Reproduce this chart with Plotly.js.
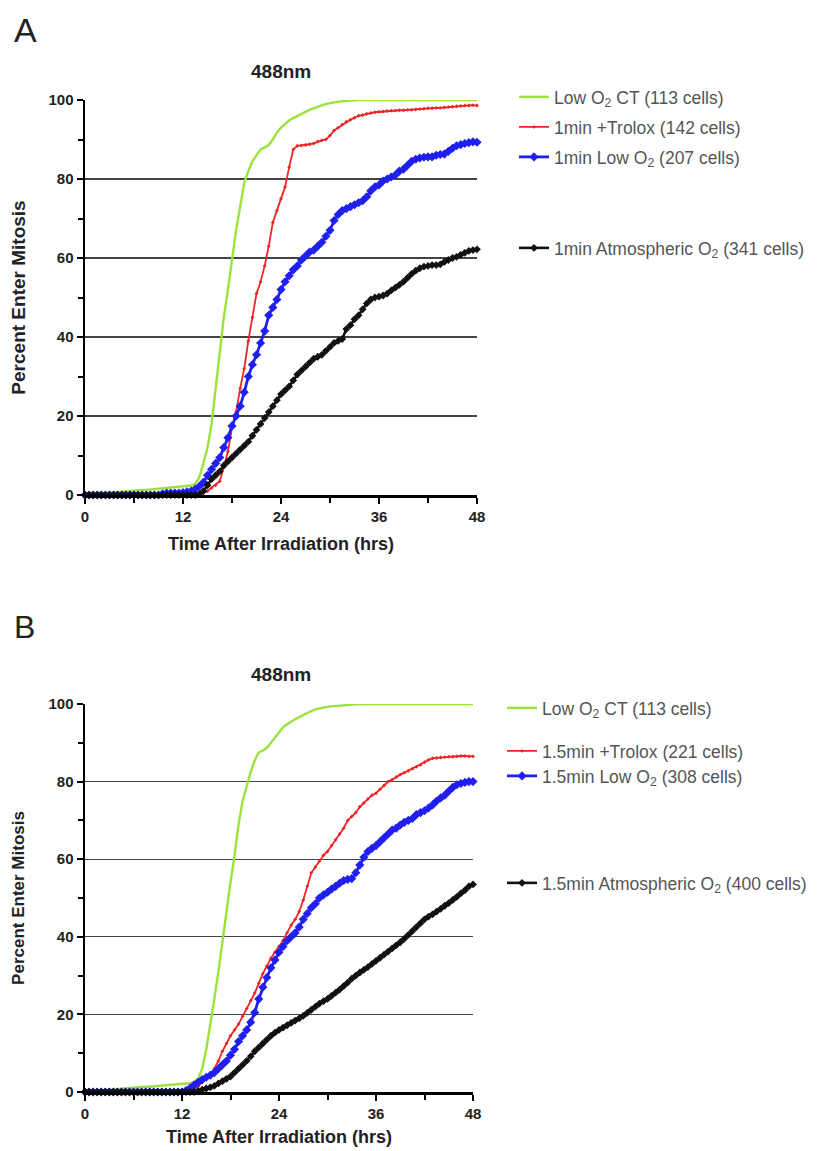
<!DOCTYPE html>
<html>
<head>
<meta charset="utf-8">
<script src="https://cdn.plot.ly/plotly-3.0.1.min.js"></script>
<style>html,body{margin:0;padding:0;background:#fff;}#chart{width:822px;height:1151px;}</style>
</head>
<body>
<div id="chart"></div>
<script>
// Time after irradiation (hrs), 0.5-hour sampling
const hours = [
  0,0.5,1,1.5,2,2.5,3,3.5,4,4.5,5,5.5,
  6,6.5,7,7.5,8,8.5,9,9.5,10,10.5,11,11.5,
  12,12.5,13,13.5,14,14.5,15,15.5,16,16.5,17,17.5,
  18,18.5,19,19.5,20,20.5,21,21.5,22,22.5,23,23.5,
  24,24.5,25,25.5,26,26.5,27,27.5,28,28.5,29,29.5,
  30,30.5,31,31.5,32,32.5,33,33.5,34,34.5,35,35.5,
  36,36.5,37,37.5,38,38.5,39,39.5,40,40.5,41,41.5,
  42,42.5,43,43.5,44,44.5,45,45.5,46,46.5,47,47.5,
  48
];

// ---- Panel A ----
const namesA = [
  "Low O<sub>2</sub> CT (113 cells)",
  "1min +Trolox (142 cells)",
  "1min Low O<sub>2</sub> (207 cells)",
  "1min Atmospheric O<sub>2</sub> (341 cells)"
];
const greenA = [
  0,0.1,0.2,0.3,0.4,0.5,0.6,0.7,0.8,0.9,1.0,1.0,
  1.1,1.2,1.3,1.3,1.4,1.5,1.6,1.7,1.8,1.9,2.0,2.0,
  2.1,2.2,2.4,2.8,4.5,8,12,18,27,36,45,52,
  60,67,73,79,82,84.5,86,87.5,88,88.6,90,91.8,
  93,94,94.8,95.4,96,96.6,97,97.5,97.9,98.3,98.7,99,
  99.2,99.4,99.6,99.7,99.8,99.9,99.9,100,100,100,100,100,
  100,100,100,100,100,100,100,100,100,100,100,100,
  100,100,100,100,100,100,100,100,100,100,100,100,
  100
];
const redA = [
  0,0,0,0,0,0,0,0,0,0,0,0,
  0,0,0,0,0,0,0,0,0,0,0,0,
  0,0,0,0,0.2,0.5,1,1.8,2.5,3.5,7,11,
  17,21,27,32,39,45,51,54,58,63,69,72,
  75,78,83,87.5,88.4,88.5,88.6,88.8,89,89.5,89.8,90,
  91,92.3,93,93.8,94.5,95,95.5,96,96.2,96.5,96.7,96.9,
  97,97.1,97.2,97.3,97.3,97.4,97.4,97.5,97.5,97.6,97.7,97.8,
  97.9,97.9,98,98,98.1,98.2,98.3,98.4,98.5,98.6,98.6,98.7,
  98.6
];
const blueA = [
  0,0,0,0,0,0,0,0,0,0,0,0,
  0,0,0,0,0,0,0,0.3,0.5,0.5,0.5,0.5,
  0.6,0.8,1.0,1.5,2.2,3.2,5,6.5,8,9.5,12,14.5,
  17.5,20,22.5,26,30,33,35.5,38.5,41.5,45.5,47.5,49.5,
  52,54,55.5,57,58,59.5,60.5,61.5,62,63,64,65.5,
  67,69.5,71,72,72.5,73,73.5,74,74.5,75.5,77,78,
  78.5,79.5,80,80.5,81,82,82.5,83.5,84.5,85,85.3,85.5,
  85.6,85.6,86,86.2,86.3,87,87.8,88.4,88.7,89,89.2,89.4,
  89.3
];
const blackA = [
  0,0,0,0,0,0,0,0,0,0,0,0,
  0,0,0,0,0,0,0,0,0,0,0,0,
  0,0,0,0,0.3,1,2.5,4,5,6,7.5,8.5,
  9.5,10.5,11.5,12.5,13.5,15,16.5,18,19.5,21,22.5,24,
  25.5,26.5,27.5,29,30.5,31.5,32.5,33.5,34.5,35,35.5,36.5,
  37.5,38.5,39,39.5,42,43,44.5,45.5,47,48.5,49.5,50,
  50.2,50.5,51,51.8,52.5,53.2,54,55,56,56.8,57.4,57.8,
  58,58.2,58.2,58.4,59,59.5,60,60.3,60.8,61.3,61.8,62,
  62.2
];

// ---- Panel B ----
const namesB = [
  "Low O<sub>2</sub> CT (113 cells)",
  "1.5min +Trolox (221 cells)",
  "1.5min Low O<sub>2</sub> (308 cells)",
  "1.5min Atmospheric O<sub>2</sub> (400 cells)"
];
const greenB = [
  0,0.1,0.2,0.3,0.4,0.5,0.6,0.7,0.8,0.9,1.0,1.0,
  1.1,1.2,1.3,1.3,1.4,1.5,1.6,1.7,1.8,1.9,2.0,2.0,
  2.1,2.2,2.2,2.6,3.5,6,11,17,24,31,39,46,
  54,61,69,75,79,82.5,85.5,87.5,88,88.7,90,91.3,
  92.8,94,94.8,95.5,96.1,96.6,97.2,97.7,98.2,98.6,98.9,99.1,
  99.3,99.4,99.5,99.6,99.7,99.8,99.9,99.9,99.9,100,100,100,
  100,100,100,100,100,100,100,100,100,100,100,100,
  100,100,100,100,100,100,100,100,100,100,100,100,
  100
];
const redB = [
  0,0,0,0,0,0,0,0,0,0,0,0,
  0,0,0,0,0,0,0,0,0,0,0,0,
  0,0,0.3,0.8,1.5,2.5,3.5,4.5,6,8,10.5,12.5,
  14.5,16,17.5,19.5,21.5,23.5,25.5,28,30.5,32.5,34.5,36,
  37.5,39,41,43,44.5,46.5,49.5,53,56.5,58,59.5,61,
  62,63.5,65,66.5,68,70,71,72,73.5,74.5,75.5,76.5,
  77,78,79,80,80.5,81.2,81.8,82.3,82.8,83.3,83.8,84.3,
  85,85.6,86,86.1,86.2,86.3,86.4,86.4,86.5,86.6,86.6,86.5,
  86.5
];
const blueB = [
  0,0,0,0,0,0,0,0,0,0,0,0,
  0,0,0,0,0,0,0,0,0,0,0,0,
  0,0.4,1,1.8,2.5,3.2,3.8,4.3,5,6,7,8,
  9.5,11,13,14.5,16,18,20.5,24,27,29.5,32,34,
  36,37.5,39,40,41,42.5,44.5,46,47.5,48.5,50,50.8,
  51.5,52.3,53,53.8,54.5,54.8,55,56.5,58.5,60.5,62,62.8,
  63.5,64.5,65.5,66.5,67.5,68,68.8,69.5,70,70.5,71.5,72,
  72.5,73.2,74,75,75.8,76.5,77.5,78.5,79.2,79.5,79.8,80,
  80
];
const blackB = [
  0,0,0,0,0,0,0,0,0,0,0,0,
  0,0,0,0,0,0,0,0,0,0,0,0,
  0,0,0,0,0.3,0.6,0.9,1.2,1.6,2.2,2.8,3.4,
  4,5,6,7,8,9.2,10.5,11.5,12.5,13.5,14.5,15.3,
  16,16.6,17.2,17.8,18.4,19,19.6,20.4,21.2,22,22.8,23.4,
  24,24.8,25.6,26.4,27.3,28.2,29.2,30,30.8,31.5,32.2,33,
  33.8,34.6,35.4,36.2,37,37.8,38.6,39.5,40.5,41.5,42.5,43.5,
  44.5,45.2,45.8,46.5,47.2,48,48.7,49.5,50.3,51.2,52,53,
  53.5
];

const xTicks = [0, 12, 24, 36, 48];
const yTicks = [0, 20, 40, 60, 80, 100];

// ---- styles ----
const W = 822, H = 1151;
const GREEN = "#9be33c", RED = "#ee2525", BLUE = "#1f1ff2", BLACK = "#111111";
const FONT = "Liberation Sans, Arial, Helvetica, sans-serif";

function styleFor(i) {
  if (i === 0) return {mode: "lines", line: {color: GREEN, width: 2.4}};
  if (i === 1) return {mode: "lines+markers", line: {color: RED, width: 1.8}, marker: {color: RED, size: 3, symbol: "diamond"}};
  if (i === 2) return {mode: "lines+markers", line: {color: BLUE, width: 2.8}, marker: {color: BLUE, size: 7, symbol: "diamond"}};
  return {mode: "lines+markers", line: {color: BLACK, width: 2.6}, marker: {color: BLACK, size: 6, symbol: "diamond"}};
}

const seriesA = [greenA, redA, blueA, blackA];
const seriesB = [greenB, redB, blueB, blackB];
const traces = [];
seriesA.forEach((ys, i) => {
  traces.push(Object.assign({
    type: "scatter", x: hours, y: ys, name: namesA[i], xaxis: "x", yaxis: "y",
    cliponaxis: false, legend: i === 0 ? "legend" : "legend" + (i + 1)
  }, styleFor(i)));
});
seriesB.forEach((ys, i) => {
  traces.push(Object.assign({
    type: "scatter", x: hours, y: ys, name: namesB[i], xaxis: "x2", yaxis: "y2",
    cliponaxis: false, legend: "legend" + (i + 5)
  }, styleFor(i)));
});

function xAxis(domain, anchor, standoff) {
  return {
    domain: domain, anchor: anchor, range: [0, 48], tickvals: xTicks,
    ticks: "outside", ticklen: 6, tickwidth: 2, tickcolor: "#000",
    minor: {tickvals: [6, 18, 30, 42], ticks: "outside", ticklen: 5, tickwidth: 2, tickcolor: "#000", showgrid: false},
    showline: true, linewidth: 2.5, linecolor: "#000", showgrid: false, zeroline: false,
    tickfont: {size: 15, color: "#222", weight: "bold"},
    title: {text: "<b>Time After Irradiation (hrs)</b>", font: {size: 18, color: "#222"}, standoff: standoff},
    fixedrange: true, automargin: false
  };
}
function yAxis(domain, anchor, standoff, tsize) {
  return {
    domain: domain, anchor: anchor, range: [0, 100], tickvals: yTicks,
    ticks: "outside", ticklen: 6, tickwidth: 2, tickcolor: "#000",
    minor: {tickvals: [10, 30, 50, 70, 90], ticks: "outside", ticklen: 5, tickwidth: 2, tickcolor: "#000", showgrid: false},
    showline: true, linewidth: 2.5, linecolor: "#000",
    showgrid: true, gridcolor: "#444", gridwidth: 1.2, zeroline: false,
    tickfont: {size: 15, color: "#222", weight: "bold"},
    title: {text: "<b>Percent Enter Mitosis</b>", font: {size: tsize, color: "#222"}, standoff: standoff},
    fixedrange: true, automargin: false
  };
}

function leg(xPix, yPix) {
  return {x: xPix / W, y: 1 - yPix / H, xanchor: "left", yanchor: "middle",
          bgcolor: "rgba(0,0,0,0)", borderwidth: 0, font: {size: 17.5, color: "#555", family: FONT}};
}

const layout = {
  width: W, height: H,
  margin: {l: 0, r: 0, t: 0, b: 0},
  paper_bgcolor: "#fff", plot_bgcolor: "rgba(0,0,0,0)",
  font: {family: FONT, color: "#222"},
  showlegend: true,
  xaxis: xAxis([85 / W, 477 / W], "y", 14),
  yaxis: yAxis([1 - 495 / H, 1 - 100 / H], "x", 18, 19),
  xaxis2: xAxis([85 / W, 473 / W], "y2", 10),
  yaxis2: yAxis([1 - 1092 / H, 1 - 704 / H], "x2", 20, 17),
  legend: leg(514, 97),
  legend2: leg(514, 127),
  legend3: leg(514, 157),
  legend4: leg(514, 248),
  legend5: leg(502, 708),
  legend6: leg(502, 751),
  legend7: leg(502, 776),
  legend8: leg(502, 883),
  annotations: [
    {text: "A", x: 12 / W, y: 1 - 30 / H, xref: "paper", yref: "paper", xanchor: "left", yanchor: "middle", showarrow: false, font: {size: 34, color: "#222"}},
    {text: "B", x: 12 / W, y: 1 - 627 / H, xref: "paper", yref: "paper", xanchor: "left", yanchor: "middle", showarrow: false, font: {size: 32, color: "#222"}},
    {text: "<b>488nm</b>", x: 281 / W, y: 1 - 71 / H, xref: "paper", yref: "paper", xanchor: "center", yanchor: "middle", showarrow: false, font: {size: 19, color: "#222"}},
    {text: "<b>488nm</b>", x: 281 / W, y: 1 - 674 / H, xref: "paper", yref: "paper", xanchor: "center", yanchor: "middle", showarrow: false, font: {size: 19, color: "#222"}}
  ]
};

Plotly.newPlot("chart", traces, layout, {displayModeBar: false, staticPlot: true});
</script>
</body>
</html>
